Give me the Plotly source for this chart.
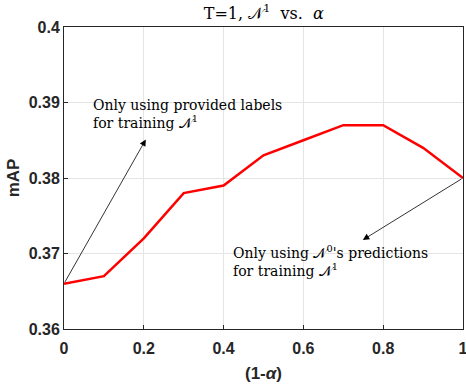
import plotly.graph_objects as go

# data
one_minus_alpha = [0, 0.1, 0.2, 0.3, 0.4, 0.5, 0.6, 0.7, 0.8, 0.9, 1.0]
map_values = [0.366, 0.367, 0.372, 0.378, 0.379, 0.383, 0.385, 0.387, 0.387, 0.384, 0.380]
x_ticks = [0, 0.2, 0.4, 0.6, 0.8, 1]
x_tick_text = ["0", "0.2", "0.4", "0.6", "0.8", "1"]
y_ticks = [0.36, 0.37, 0.38, 0.39, 0.4]
y_tick_text = ["0.36", "0.37", "0.38", "0.39", "0.4"]

serif = "DejaVu Serif, Liberation Serif, serif"
sans = "Liberation Sans, Arial, sans-serif"
N = "𝒩"

fig = go.Figure()
fig.add_trace(
    go.Scatter(
        x=one_minus_alpha,
        y=map_values,
        mode="lines",
        line=dict(color="red", width=2.5),
        showlegend=False,
    )
)

# arrows
fig.add_annotation(
    x=0.205, y=0.3851, ax=0, ay=0.366,
    xref="x", yref="y", axref="x", ayref="y",
    text="", showarrow=True, arrowhead=2, arrowsize=1.6, arrowwidth=0.8, arrowcolor="black",
)
fig.add_annotation(
    x=0.749, y=0.3718, ax=1.0, ay=0.380,
    xref="x", yref="y", axref="x", ayref="y",
    text="", showarrow=True, arrowhead=2, arrowsize=1.6, arrowwidth=0.8, arrowcolor="black",
)

# text labels
fig.add_annotation(
    x=0.068, y=0.391, xref="x", yref="y", xanchor="left", yanchor="top",
    text=f"Only using provided labels<br>for training {N}<sup>1</sup>",
    showarrow=False, align="left", font=dict(family=serif, size=14, color="black"),
)
fig.add_annotation(
    x=0.418, y=0.3717, xref="x", yref="y", xanchor="left", yanchor="top",
    text=f"Only using {N}<sup>0</sup>'s predictions<br>for training {N}<sup>1</sup>",
    showarrow=False, align="left", font=dict(family=serif, size=14, color="black"),
)

fig.update_layout(
    width=466,
    height=388,
    margin=dict(l=64, r=3, t=27, b=59),
    plot_bgcolor="white",
    paper_bgcolor="white",
    title=dict(
        text=f"T=1, {N}<sup>1</sup>  vs.  <i>α</i>",
        x=0.566,
        xanchor="center",
        y=0.965,
        yanchor="middle",
        font=dict(family=serif, size=16, color="black"),
    ),
)
fig.update_xaxes(
    range=[0, 1],
    tickvals=x_ticks,
    ticktext=x_tick_text,
    tickfont=dict(family=sans, size=16, color="#262626", weight="bold"),
    ticklabeloverflow="allow",
    ticklabelstandoff=5,
    automargin=False,
    showgrid=True, gridcolor="#e5e5e5",
    showline=True, linecolor="#262626", linewidth=1, mirror=True,
    ticks="inside", ticklen=4, tickcolor="#262626",
    zeroline=False,
    title=dict(text="(1-<i>α</i>)", font=dict(family=sans, size=17, color="#262626", weight="bold"), standoff=10),
)
fig.update_yaxes(
    range=[0.36, 0.4],
    tickvals=y_ticks,
    ticktext=y_tick_text,
    tickfont=dict(family=sans, size=16, color="#262626", weight="bold"),
    automargin=False,
    showgrid=True, gridcolor="#e5e5e5",
    showline=True, linecolor="#262626", linewidth=1, mirror=True,
    ticks="inside", ticklen=4, tickcolor="#262626",
    zeroline=False,
    title=dict(text="mAP", font=dict(family=sans, size=17, color="#262626", weight="bold"), standoff=4),
)

fig.write_html(
    "out.html",
    config={"displayModeBar": False},
    post_script="document.body.style.margin='0';",
)
